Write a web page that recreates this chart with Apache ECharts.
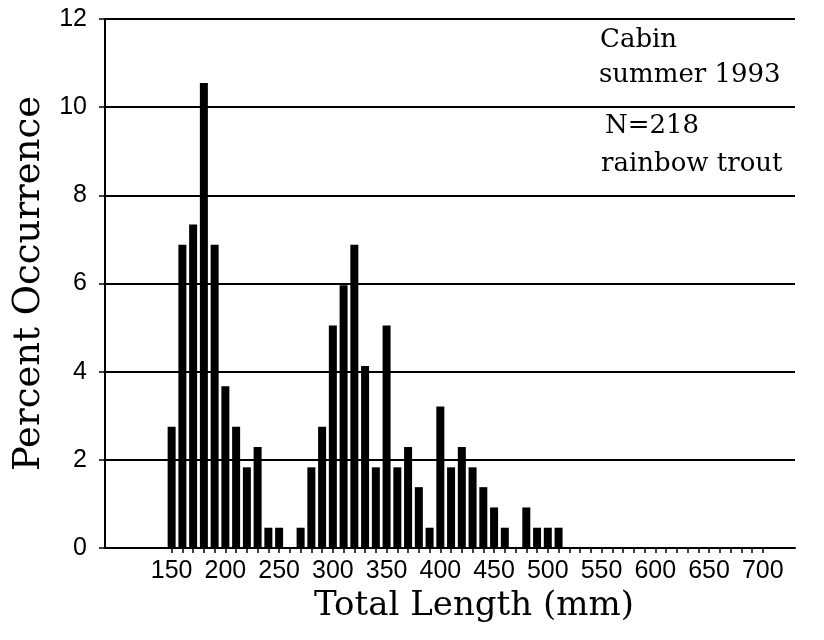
<!DOCTYPE html>
<html>
<head>
<meta charset="utf-8">
<script src="https://cdn.jsdelivr.net/npm/echarts@6/dist/echarts.min.js"></script>
<style>html,body{margin:0;padding:0;background:#fff}#c{width:824px;height:640px}</style>
</head>
<body>
<div id="c"></div>
<script>
// Bin (total length, mm) and percent occurrence (N=218)
const lengthBins = [150,160,170,180,190,200,210,220,230,240,250,260,270,280,290,300,310,320,330,340,350,360,370,380,390,400,410,420,430,440,450,460,470,480,490,500,510];
const percentValues = [2.75,6.88,7.34,10.55,6.88,3.67,2.75,1.83,2.29,0.46,0.46,0,0.46,1.83,2.75,5.05,5.96,6.88,4.13,1.83,5.05,1.83,2.29,1.38,0.46,3.21,1.83,2.29,1.83,1.38,0.92,0.46,0,0.92,0.46,0.46,0.46];
const xTickLabels = [150,200,250,300,350,400,450,500,550,600,650,700];
const yTickLabels = [0,2,4,6,8,10,12];
const annotations = ['Cabin','summer 1993','N=218','rainbow trout'];

const xTicks = [];
for (let v = 150; v <= 700; v += 10) xTicks.push(v);

const serif = '"DejaVu Serif", serif';
const sans = '"Liberation Sans", Arial, sans-serif';

const chart = echarts.init(document.getElementById('c'));
chart.setOption({
  backgroundColor: '#fff',
  animation: false,
  grid: { left: 105, right: 29, top: 19, bottom: 92 },
  xAxis: {
    type: 'value', min: 88, max: 730,
    name: 'Total Length (mm)', nameLocation: 'middle', nameGap: 36,
    nameTextStyle: { fontFamily: serif, fontSize: 34, color: '#000', padding: [0, 0, 0, 48] },
    axisLine: { show: true, lineStyle: { color: '#000', width: 2 } },
    axisTick: { show: true, customValues: xTicks, length: 5, lineStyle: { color: '#000', width: 1.5 } },
    axisLabel: { customValues: xTickLabels, color: '#000', fontFamily: sans, fontSize: 25, margin: 11 },
    splitLine: { show: false }
  },
  yAxis: {
    type: 'value', min: 0, max: 12, interval: 2,
    name: 'Percent Occurrence', nameLocation: 'middle', nameGap: 54,
    nameTextStyle: { fontFamily: serif, fontSize: 37, color: '#000' },
    axisLine: { show: true, lineStyle: { color: '#000', width: 2 } },
    axisTick: { show: true, length: 6, lineStyle: { color: '#000', width: 1.5 } },
    axisLabel: { color: '#000', fontFamily: sans, fontSize: 25, margin: 18,
      formatter: v => yTickLabels.includes(v) ? String(v) : '' },
    splitLine: { show: true, lineStyle: { color: '#000', width: 2 } }
  },
  series: [{
    type: 'bar',
    data: lengthBins.map((b, i) => [b, percentValues[i]]),
    barWidth: 8,
    itemStyle: { color: '#000' }
  }],
  graphic: [
    { type: 'text', left: 600, top: 27, style: { text: annotations[0], font: '26px ' + serif, fill: '#000' } },
    { type: 'text', left: 599, top: 62, style: { text: annotations[1], font: '26px ' + serif, fill: '#000' } },
    { type: 'text', left: 605, top: 113, style: { text: annotations[2], font: '26px ' + serif, fill: '#000' } },
    { type: 'text', left: 601, top: 151, style: { text: annotations[3], font: '26px ' + serif, fill: '#000' } }
  ]
});
</script>
</body>
</html>
